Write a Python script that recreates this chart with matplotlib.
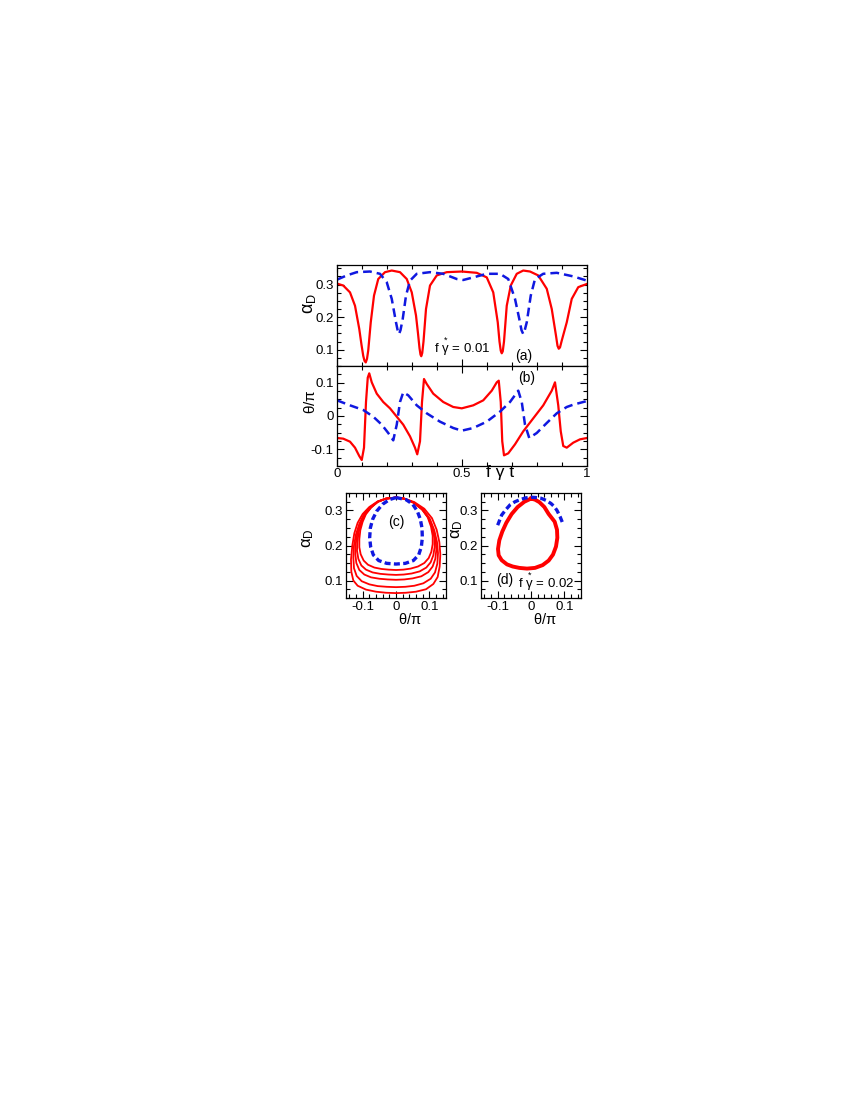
import matplotlib
matplotlib.use('Agg')
import matplotlib.pyplot as plt
from matplotlib.ticker import MultipleLocator

plt.rcParams['font.family'] = ['Liberation Sans', 'DejaVu Sans']
plt.rcParams['mathtext.fontset'] = 'custom'
plt.rcParams['mathtext.rm'] = 'Liberation Sans'
plt.rcParams['mathtext.it'] = 'Liberation Sans'
plt.rcParams['mathtext.bf'] = 'Liberation Sans:bold'

RED = '#ff0000'
BLUE = '#1018e0'

# ---------------- panel (a): alpha_D vs f_gamma t
t_red_a = [0.0, 0.025, 0.052, 0.072, 0.089, 0.098, 0.105, 0.110, 0.115, 0.120, 0.125, 0.135, 0.148,
           0.165, 0.192, 0.219, 0.252, 0.279, 0.299, 0.316, 0.324, 0.330, 0.334, 0.337, 0.341, 0.346,
           0.356, 0.372, 0.399, 0.439, 0.499, 0.559, 0.599, 0.625, 0.643, 0.650, 0.655, 0.659, 0.663,
           0.668, 0.679, 0.695, 0.719, 0.745, 0.772, 0.805, 0.839, 0.859, 0.876, 0.882, 0.887, 0.892,
           0.899, 0.919, 0.939, 0.965, 1.0]
alpha_red_a = [0.303, 0.297, 0.276, 0.235, 0.164, 0.115, 0.081, 0.066, 0.061, 0.072, 0.098, 0.184, 0.266,
               0.317, 0.338, 0.343, 0.338, 0.317, 0.276, 0.205, 0.150, 0.105, 0.085, 0.080, 0.090, 0.125,
               0.225, 0.297, 0.328, 0.338, 0.340, 0.336, 0.322, 0.276, 0.184, 0.125, 0.097, 0.089, 0.095,
               0.125, 0.235, 0.297, 0.333, 0.343, 0.340, 0.328, 0.287, 0.225, 0.143, 0.112, 0.103, 0.107,
               0.128, 0.184, 0.256, 0.292, 0.302]
t_blue_a = [0.0, 0.039, 0.079, 0.132, 0.172, 0.199, 0.219, 0.236, 0.243, 0.248, 0.254, 0.263, 0.276,
            0.292, 0.319, 0.372, 0.425, 0.479, 0.505, 0.545, 0.599, 0.652, 0.685, 0.712, 0.729, 0.738,
            0.745, 0.751, 0.759, 0.775, 0.792, 0.825, 0.879, 0.945, 1.0]
alpha_blue_a = [0.315, 0.328, 0.338, 0.340, 0.333, 0.307, 0.256, 0.184, 0.158, 0.148, 0.160, 0.195, 0.266,
                0.312, 0.333, 0.338, 0.333, 0.317, 0.314, 0.322, 0.333, 0.333, 0.317, 0.256, 0.195, 0.160,
                0.148, 0.160, 0.184, 0.266, 0.317, 0.333, 0.336, 0.325, 0.312]

# ---------------- panel (b): theta/pi vs f_gamma t
t_red_b = [0.0, 0.025, 0.052, 0.072, 0.089, 0.099, 0.108, 0.116, 0.123, 0.129, 0.139, 0.159,
           0.185, 0.212, 0.239, 0.265, 0.292, 0.312, 0.321, 0.332, 0.340, 0.348, 0.359, 0.385,
           0.425, 0.465, 0.499, 0.545, 0.585, 0.619, 0.639, 0.647, 0.655, 0.661, 0.668, 0.685,
           0.712, 0.745, 0.785, 0.825, 0.859, 0.872, 0.885, 0.895, 0.905, 0.919, 0.945, 0.972, 1.0]
theta_red_b = [-0.066, -0.068, -0.077, -0.095, -0.120, -0.132, -0.095, 0.042, 0.115, 0.128, 0.101, 0.067,
               0.042, 0.023, -0.002, -0.026, -0.061, -0.095, -0.115, -0.076, 0.042, 0.111, 0.096, 0.067,
               0.042, 0.027, 0.023, 0.032, 0.047, 0.076, 0.101, 0.106, 0.042, -0.076, -0.118, -0.112,
               -0.085, -0.046, -0.007, 0.032, 0.076, 0.101, 0.032, -0.046, -0.090, -0.095, -0.080, -0.070, -0.066]
t_blue_b = [0.0, 0.052, 0.105, 0.145, 0.179, 0.205, 0.225, 0.239, 0.252, 0.265, 0.285, 0.319,
            0.359, 0.412, 0.465, 0.499, 0.545, 0.599, 0.652, 0.692, 0.725, 0.739, 0.752, 0.769,
            0.799, 0.839, 0.879, 0.919, 0.945, 1.0]
theta_blue_b = [0.047, 0.032, 0.018, -0.002, -0.026, -0.051, -0.073, -0.026, 0.042, 0.071, 0.062, 0.032,
                0.008, -0.017, -0.036, -0.044, -0.036, -0.017, 0.013, 0.042, 0.076, 0.042, -0.026, -0.066,
                -0.051, -0.021, 0.008, 0.027, 0.034, 0.045]

# ---------------- panel (c): phase portrait, f*_gamma = 0.01
loops_c_theta = [
    [0.0, -0.03, -0.055, -0.08, -0.1, -0.115, -0.125, -0.131, -0.135, -0.134, -0.128, -0.115, -0.09, -0.06, -0.03,
     0.0, 0.03, 0.06, 0.09, 0.112, 0.125, 0.131, 0.133, 0.13, 0.122, 0.108, 0.085, 0.055, 0.025, 0.0],
    [0.0, -0.03, -0.055, -0.078, -0.097, -0.11, -0.12, -0.126, -0.128, -0.126, -0.118, -0.103, -0.08, -0.055, -0.028,
     0.0, 0.028, 0.055, 0.082, 0.104, 0.117, 0.124, 0.126, 0.123, 0.115, 0.102, 0.082, 0.053, 0.024, 0.0],
    [0.0, -0.03, -0.055, -0.077, -0.095, -0.107, -0.116, -0.121, -0.122, -0.119, -0.11, -0.095, -0.075, -0.05, -0.025,
     0.0, 0.025, 0.05, 0.076, 0.097, 0.11, 0.118, 0.121, 0.119, 0.112, 0.1, 0.08, 0.052, 0.024, 0.0],
    [0.0, -0.03, -0.055, -0.076, -0.093, -0.104, -0.112, -0.116, -0.117, -0.113, -0.104, -0.09, -0.07, -0.047, -0.023,
     0.0, 0.023, 0.047, 0.071, 0.091, 0.104, 0.112, 0.116, 0.115, 0.109, 0.098, 0.079, 0.052, 0.024, 0.0],
    [0.0, -0.03, -0.054, -0.074, -0.09, -0.1, -0.107, -0.11, -0.11, -0.106, -0.097, -0.084, -0.065, -0.044, -0.022,
     0.0, 0.022, 0.044, 0.066, 0.085, 0.098, 0.106, 0.11, 0.11, 0.105, 0.095, 0.077, 0.051, 0.024, 0.0],
]
loops_c_alpha = [
    [0.337, 0.334, 0.326, 0.31, 0.29, 0.265, 0.235, 0.2, 0.16, 0.125, 0.1, 0.085, 0.074, 0.068, 0.065,
     0.064, 0.065, 0.068, 0.075, 0.09, 0.11, 0.14, 0.175, 0.21, 0.245, 0.278, 0.305, 0.324, 0.334, 0.337],
    [0.337, 0.334, 0.325, 0.308, 0.287, 0.262, 0.232, 0.2, 0.165, 0.135, 0.113, 0.098, 0.089, 0.084, 0.082,
     0.081, 0.082, 0.085, 0.092, 0.105, 0.123, 0.148, 0.178, 0.21, 0.243, 0.275, 0.302, 0.323, 0.334, 0.337],
    [0.337, 0.334, 0.325, 0.308, 0.287, 0.262, 0.234, 0.205, 0.175, 0.15, 0.13, 0.117, 0.109, 0.105, 0.103,
     0.102, 0.103, 0.106, 0.112, 0.124, 0.14, 0.162, 0.188, 0.216, 0.246, 0.276, 0.302, 0.323, 0.334, 0.337],
    [0.337, 0.334, 0.325, 0.308, 0.288, 0.264, 0.238, 0.21, 0.185, 0.162, 0.143, 0.131, 0.123, 0.119, 0.117,
     0.116, 0.117, 0.12, 0.126, 0.137, 0.152, 0.172, 0.196, 0.222, 0.25, 0.278, 0.303, 0.323, 0.334, 0.337],
    [0.337, 0.334, 0.325, 0.309, 0.29, 0.268, 0.244, 0.218, 0.195, 0.175, 0.157, 0.145, 0.137, 0.133, 0.131,
     0.13, 0.131, 0.134, 0.14, 0.15, 0.164, 0.182, 0.204, 0.228, 0.254, 0.281, 0.304, 0.323, 0.334, 0.337],
]
theta_blue_c = [0.0, 0.03, 0.05, 0.064, 0.073, 0.078, 0.079, 0.076, 0.068, 0.052, 0.028, 0.0,
                -0.028, -0.052, -0.068, -0.076, -0.079, -0.077, -0.07, -0.058, -0.04, -0.02, 0.0]
alpha_blue_c = [0.337, 0.331, 0.318, 0.298, 0.275, 0.25, 0.222, 0.196, 0.173, 0.157, 0.149, 0.147,
                0.149, 0.157, 0.173, 0.196, 0.222, 0.25, 0.275, 0.298, 0.318, 0.331, 0.337]

# ---------------- panel (d): phase portrait, f*_gamma = 0.02
theta_red_d = [0.0, -0.02, -0.04, -0.058, -0.074, -0.086, -0.095, -0.099, -0.097, -0.088, -0.072, -0.055,
               -0.035, -0.012, 0.012, 0.035, 0.053, 0.066, 0.075, 0.079, 0.078, 0.071, 0.053, 0.04,
               0.025, 0.012, 0.0]
alpha_red_d = [0.334, 0.325, 0.31, 0.29, 0.265, 0.24, 0.215, 0.19, 0.172, 0.158, 0.146, 0.14,
               0.136, 0.134, 0.136, 0.144, 0.157, 0.174, 0.197, 0.222, 0.245, 0.268, 0.29, 0.31,
               0.324, 0.331, 0.334]
theta_blue_d = [-0.1, -0.088, -0.075, -0.063, -0.048, -0.033, -0.016, 0.0, 0.015, 0.03, 0.045,
                0.06, 0.07, 0.078, 0.087, 0.095]
alpha_blue_d = [0.258, 0.287, 0.303, 0.316, 0.325, 0.331, 0.336, 0.338, 0.337, 0.335, 0.329,
                0.32, 0.311, 0.3, 0.283, 0.264]


def style(ax, xmaj, xmin, ymaj, ymin):
    ax.xaxis.set_major_locator(MultipleLocator(xmaj))
    ax.xaxis.set_minor_locator(MultipleLocator(xmin))
    ax.yaxis.set_major_locator(MultipleLocator(ymaj))
    ax.yaxis.set_minor_locator(MultipleLocator(ymin))
    ax.tick_params(which='both', direction='in', top=True, right=True, width=0.8,
                   labelsize=9.5, pad=2.5)
    ax.tick_params(which='major', length=5)
    ax.tick_params(which='minor', length=3)
    for s in ax.spines.values():
        s.set_linewidth(0.9)


fig = plt.figure(figsize=(8.5, 11), dpi=100)
W, H = 850.0, 1100.0


def box(x0, y0, x1, y1):
    return [x0 / W, 1 - y1 / H, (x1 - x0) / W, (y1 - y0) / H]


axa = fig.add_axes(box(337, 265, 587, 366))
axb = fig.add_axes(box(337, 366, 587, 466))
axc = fig.add_axes(box(346, 493, 446, 598))
axd = fig.add_axes(box(481, 493, 581, 598))

fstar_01 = r'f $\overset{*}{\gamma}$ = 0.01'
fstar_02 = r'f $\overset{*}{\gamma}$ = 0.02'

# (a)
axa.plot(t_red_a, alpha_red_a, '-', c=RED, lw=1.6)
axa.plot(t_blue_a, alpha_blue_a, '--', c=BLUE, lw=1.8, dashes=(3.5, 2))
axa.set_xlim(0, 1)
axa.set_ylim(0.05, 0.36)
style(axa, 0.5, 0.1, 0.1, 0.025)
axa.tick_params(labelbottom=False)
axa.set_yticks([0.1, 0.2, 0.3])
axa.set_ylabel(r'$\alpha_D$', fontsize=13)
axa.yaxis.set_label_coords(-0.075, 0.62)
axa.text(0.5, 0.108, fstar_01, fontsize=9.5, ha='center', va='center')
axa.text(0.745, 0.08, '(a)', fontsize=10, ha='center', va='center')

# (b)
axb.plot(t_red_b, theta_red_b, '-', c=RED, lw=1.6)
axb.plot(t_blue_b, theta_blue_b, '--', c=BLUE, lw=1.8, dashes=(3.5, 2))
axb.set_xlim(0, 1)
axb.set_ylim(-0.15, 0.15)
style(axb, 0.5, 0.1, 0.1, 0.025)
axb.set_yticks([-0.1, 0, 0.1])
axb.set_yticklabels(['-0.1', '0', '0.1'])
axb.set_xticks([0, 0.5, 1])
axb.set_xticklabels(['0', '0.5', '1'])
axb.tick_params(axis='x', pad=1.5)
axb.set_ylabel(r'$\theta/\pi$', fontsize=11)
axb.yaxis.set_label_coords(-0.075, 0.64)
axb.text(0.652, -0.065, 'f γ t', fontsize=12.5, ha='center', va='center',
         transform=axb.transAxes)
axb.text(0.759, 0.113, '(b)', fontsize=10, ha='center', va='center')

# (c)
for th, al in zip(loops_c_theta, loops_c_alpha):
    axc.plot(th, al, '-', c=RED, lw=1.3)
axc.plot(theta_blue_c, alpha_blue_c, '--', c=BLUE, lw=2.4, dashes=(1.8, 1.0))
axc.set_xlim(-0.15, 0.15)
axc.set_ylim(0.05, 0.35)
style(axc, 0.1, 0.02, 0.1, 0.025)
axc.set_xticks([-0.1, 0, 0.1])
axc.set_xticklabels(['-0.1', '0', '0.1'])
axc.set_yticks([0.1, 0.2, 0.3])
axc.set_ylabel(r'$\alpha_D$', fontsize=12)
axc.yaxis.set_label_coords(-0.30, 0.57)
axc.text(0.64, -0.2, r'$\theta/\pi$', fontsize=10.5, ha='center', va='center',
         transform=axc.transAxes)
axc.text(0.0, 0.266, '(c)', fontsize=10, ha='center', va='center')

# (d)
axd.plot(theta_red_d, alpha_red_d, '-', c=RED, lw=2.8)
axd.plot(theta_blue_d, alpha_blue_d, '--', c=BLUE, lw=2.4, dashes=(1.8, 1.0))
axd.set_xlim(-0.15, 0.15)
axd.set_ylim(0.05, 0.35)
style(axd, 0.1, 0.02, 0.1, 0.025)
axd.set_xticks([-0.1, 0, 0.1])
axd.set_xticklabels(['-0.1', '0', '0.1'])
axd.set_yticks([0.1, 0.2, 0.3])
axd.set_ylabel(r'$\alpha_D$', fontsize=12)
axd.yaxis.set_label_coords(-0.16, 0.65)
axd.text(0.64, -0.2, r'$\theta/\pi$', fontsize=10.5, ha='center', va='center',
         transform=axd.transAxes)
axd.text(-0.08, 0.1, '(d)', fontsize=10, ha='center', va='center')
axd.text(0.045, 0.096, fstar_02, fontsize=9.5, ha='center', va='center')

fig.savefig('out.png', dpi=100)
